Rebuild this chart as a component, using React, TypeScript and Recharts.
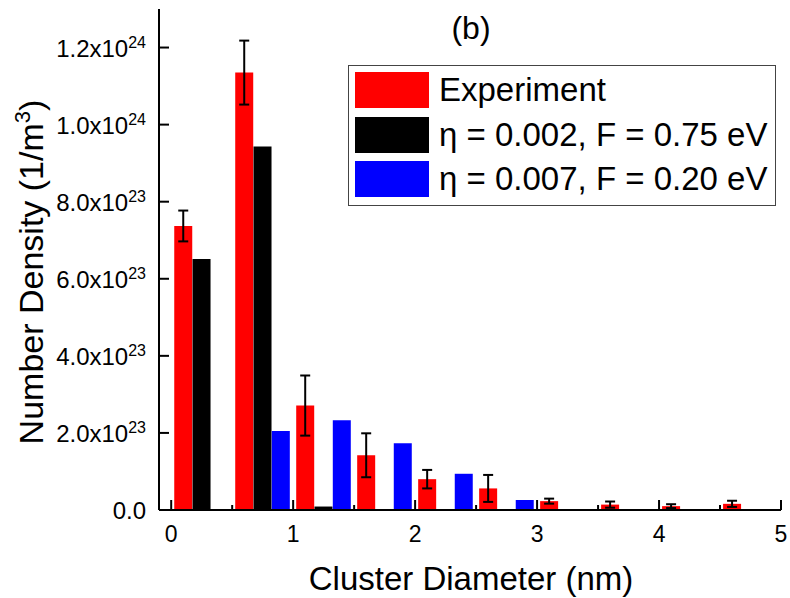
import { Bar, ComposedChart, Customized, ErrorBar, Legend, XAxis, YAxis } from "recharts"

const FONT = "'Liberation Sans', Arial, sans-serif"

// cluster diameter (nm) and number density in units of 1e23 1/m^3
const expX = [0.1, 0.6, 1.1, 1.6, 2.1, 2.6, 3.1, 3.6, 4.1, 4.6]
const expVal = [7.37, 11.35, 2.71, 1.42, 0.8, 0.56, 0.23, 0.14, 0.1, 0.16]
const expErr = [0.4, 0.83, 0.78, 0.57, 0.24, 0.35, 0.065, 0.08, 0.05, 0.08]

const fitAX = [0.25, 0.75, 1.25]
const fitAVal = [6.51, 9.43, 0.09]

const fitBX = [0.9, 1.4, 1.9, 2.4, 2.9]
const fitBVal = [2.05, 2.33, 1.73, 0.94, 0.26]

const xTicks = [0, 0.5, 1, 1.5, 2, 2.5, 3, 3.5, 4, 4.5, 5]
const yTicks = [0, 2, 4, 6, 8, 10, 12]

const rows = [
  ...expX.map((x, i) => ({ x, exp: expVal[i], err: expErr[i] })),
  ...fitAX.map((x, i) => ({ x, a: fitAVal[i] })),
  ...fitBX.map((x, i) => ({ x, b: fitBVal[i] })),
].sort((p, q) => p.x - q.x)

const XTick = ({ x, y, payload }: any) => {
  const major = Number.isInteger(payload.value)
  return (
    <g>
      <line x1={x} x2={x} y1={y} y2={y - (major ? 10 : 5)} stroke="#000" strokeWidth={2} />
      {major && (
        <text x={x} y={y + 32} textAnchor="middle" fontSize={23} fontFamily={FONT} fill="#000">
          {payload.value}
        </text>
      )}
    </g>
  )
}

const YTick = ({ x, y, payload }: any) => {
  const v = payload.value
  let body = "0.0"
  let exp = ""
  if (v > 0 && v < 10) {
    body = v.toFixed(1) + "x10"
    exp = "23"
  } else if (v >= 10) {
    body = (v / 10).toFixed(1) + "x10"
    exp = "24"
  }
  return (
    <g>
      <line x1={x} x2={x + 10} y1={y} y2={y} stroke="#000" strokeWidth={2} />
      <text x={x - 13} y={y + 9} textAnchor="end" fontSize={24} fontFamily={FONT} fill="#000">
        {body}
        {exp && (
          <tspan dy={-9} fontSize={16}>
            {exp}
          </tspan>
        )}
      </text>
    </g>
  )
}

const LegendBox = ({ payload }: any) => (
  <div
    style={{
      position: "relative",
      width: 428,
      height: 141,
      boxSizing: "border-box",
      border: "1px solid #444",
      background: "#fff",
      fontFamily: FONT,
    }}
  >
    {(payload || []).map((p: any, i: number) => (
      <div
        key={p.value}
        style={{ position: "absolute", left: 6, top: 6 + i * 44.5, height: 36, display: "flex", alignItems: "center" }}
      >
        <div style={{ width: 74, height: 36, background: p.color }} />
        <span style={{ marginLeft: 10, fontSize: 33, lineHeight: "36px", color: "#000", whiteSpace: "nowrap" }}>
          {p.value}
        </span>
      </div>
    ))}
  </div>
)

const Titles = () => (
  <g fontFamily={FONT} fill="#000">
    <text x={471} y={39} textAnchor="middle" fontSize={32}>
      (b)
    </text>
    <text x={471} y={590} textAnchor="middle" fontSize={33}>
      Cluster Diameter (nm)
    </text>
    <text x={43} y={272} textAnchor="middle" fontSize={34} transform="rotate(-90, 43, 272)">
      Number Density (1/m
      <tspan dy={-13} fontSize={22}>
        3
      </tspan>
      <tspan dy={13}>)</tspan>
    </text>
  </g>
)

export default function App() {
  return (
    <div style={{ position: "absolute", left: 0, top: 0, width: 790, height: 598, background: "#fff" }}>
      <ComposedChart width={790} height={598} data={rows} margin={{ top: 9, right: 9, bottom: 0, left: 0 }}>
        <XAxis
          dataKey="x"
          type="number"
          domain={[-0.1, 5]}
          ticks={xTicks}
          interval={0}
          height={88}
          tickSize={0}
          tickMargin={0}
          tickLine={false}
          tick={<XTick />}
          axisLine={{ stroke: "#000", strokeWidth: 2 }}
        />
        <XAxis
          xAxisId="top"
          orientation="top"
          type="number"
          domain={[-0.1, 5]}
          height={0}
          tick={false}
          tickLine={false}
          axisLine={{ stroke: "#000", strokeWidth: 2 }}
        />
        <YAxis
          type="number"
          domain={[0, 13]}
          ticks={yTicks}
          interval={0}
          width={159}
          tickSize={0}
          tickMargin={0}
          tickLine={false}
          tick={<YTick />}
          axisLine={{ stroke: "#000", strokeWidth: 2 }}
        />
        <YAxis
          yAxisId="right"
          orientation="right"
          type="number"
          domain={[0, 13]}
          width={0}
          tick={false}
          tickLine={false}
          axisLine={{ stroke: "#000", strokeWidth: 2 }}
        />
        <Legend
          layout="vertical"
          align="center"
          verticalAlign="middle"
          content={<LegendBox />}
          wrapperStyle={{ position: "absolute", left: 348, top: 65, width: 428, height: 141 }}
        />
        <Bar dataKey="exp" name="Experiment" stackId="s" fill="#ff0000" barSize={18} isAnimationActive={false}>
          <ErrorBar dataKey="err" width={5} stroke="#000" strokeWidth={2} />
        </Bar>
        <Bar dataKey="a" name="η = 0.002, F = 0.75 eV" stackId="s" fill="#000000" barSize={18} isAnimationActive={false} />
        <Bar dataKey="b" name="η = 0.007, F = 0.20 eV" stackId="s" fill="#0000ff" barSize={18} isAnimationActive={false} />
        <Customized component={Titles} />
      </ComposedChart>
    </div>
  )
}
